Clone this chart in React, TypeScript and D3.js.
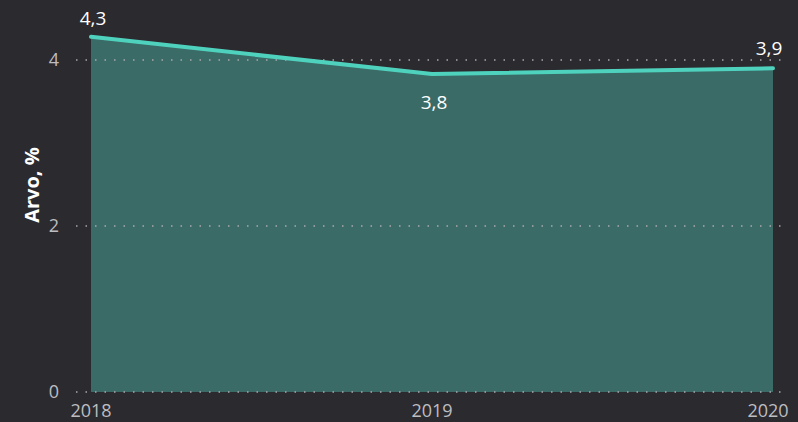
import React from 'react'
import { scaleLinear, area, line, curveLinear } from 'd3'

const years = [2018, 2019, 2020]
const values = [4.28, 3.83, 3.9]
const labels = ['4,3', '3,8', '3,9']
const yTicks = [0, 2, 4]

const W = 798
const H = 422
const BG = '#2b2a2f'
const AREA = '#3a6b67'
const LINE = '#4fd2bd'
const FONT = '"Open Sans", "Noto Sans", sans-serif'

const App = () => {
    const x = scaleLinear().domain([2018, 2020]).range([91, 773])
    const y = scaleLinear().domain([0, 4]).range([392, 60])

    const pts = years.map((yr, i) => ({ yr, v: values[i] }))
    const areaPath = area<{ yr: number, v: number }>()
        .x(d => x(d.yr)).y0(y(0)).y1(d => y(d.v)).curve(curveLinear)(pts)
    const linePath = line<{ yr: number, v: number }>()
        .x(d => x(d.yr)).y(d => y(d.v))(pts)

    // label positions: first and last above, middle below
    const labelDy = [-12, 35, -13]

    return (
        <svg width={W} height={H} style={{ position: 'absolute', left: 0, top: 0, background: BG }}>
            <rect width={W} height={H} fill={BG} />
            <path d={areaPath || ''} fill={AREA} />
            {yTicks.map(t =>
                <g key={t}>
                    <line x1={76} x2={784} y1={y(t)} y2={y(t)} stroke="#a9a9ad" strokeWidth={1.5}
                        strokeDasharray="1.5 8" />
                    <text x={59} y={y(t) + 6} textAnchor="end" fill="#bdbdc0" fontSize={18} fontFamily={FONT}>{t}</text>
                </g>
            )}
            <path d={linePath || ''} fill="none" stroke={LINE} strokeWidth={4} strokeLinecap="round" strokeLinejoin="round" />
            {years.map((yr, i) =>
                <text key={yr} x={i === 2 ? x(yr) - 5 : x(yr)} y={417} textAnchor="middle"
                    fill="#bdbdc0" fontSize={18} fontFamily={FONT}>{yr}</text>
            )}
            {pts.map((d, i) =>
                <text key={d.yr} x={i === 2 ? x(d.yr) - 4 : x(d.yr) + 2} y={y(d.v) + labelDy[i]} textAnchor="middle"
                    fill="#ffffff" fontSize={19} fontFamily={FONT}>{labels[i]}</text>
            )}
            <text transform="translate(39,185) rotate(-90)" textAnchor="middle" fill="#ffffff"
                fontSize={20} fontWeight="bold" fontFamily={FONT}>Arvo, %</text>
        </svg>
    )
}

export default App
